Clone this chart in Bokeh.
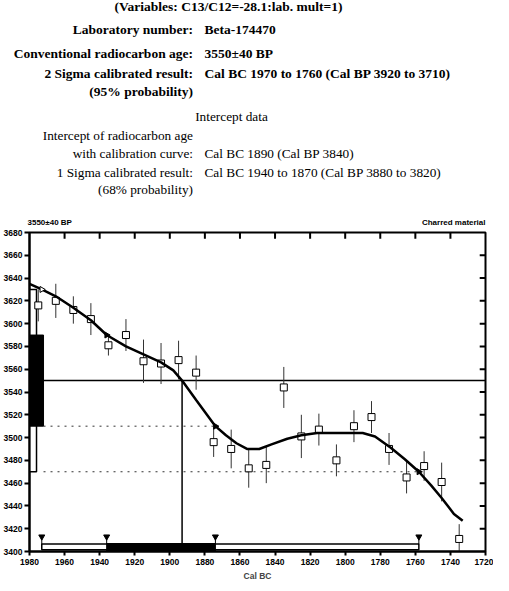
import math
from bokeh.plotting import figure
from bokeh.models import Range1d, FixedTicker
from bokeh.layouts import column
from bokeh.core.properties import value
from bokeh.embed import file_html
from bokeh.resources import INLINE

# ---------------- data ----------------
measured_age = 3550
age_sigma = 40
intercept_cal_bc = 1893
one_sigma_range = [1936, 1874]
two_sigma_range = [1973, 1758]
crossing_cal_bc = [1973, 1936, 1874, 1758]
crossing_bp = [3630, 3590, 3510, 3470]

curve_cal_bc = [1980, 1973, 1965, 1955, 1945, 1936, 1925, 1915, 1905, 1898, 1893, 1885,
                1874, 1868, 1862, 1856, 1849, 1842, 1833, 1825, 1816, 1808, 1790, 1783,
                1774, 1766, 1758, 1751, 1745, 1738, 1733]
curve_bp = [3635, 3630, 3624, 3614, 3603, 3590, 3580, 3573, 3566, 3559, 3550, 3533,
            3510, 3502, 3495, 3490, 3490, 3494, 3499, 3502, 3504, 3504, 3504, 3501,
            3491, 3481, 3470, 3458, 3447, 3433, 3427]

point_cal_bc = [1975, 1965, 1955, 1945, 1935, 1925, 1915, 1905, 1895, 1885, 1875, 1865, 1855,
                1845, 1835, 1825, 1815, 1805, 1795, 1785, 1775, 1765, 1755, 1745, 1735]
point_bp = [3616, 3620, 3612, 3604, 3581, 3590, 3567, 3565, 3568, 3557, 3496, 3490, 3473,
            3476, 3544, 3501, 3507, 3480, 3510, 3518, 3490, 3465, 3475, 3461, 3411]
point_err = [14, 15, 12, 14, 9, 14, 19, 18, 17, 15, 13, 17, 17, 16, 18, 19, 14, 14, 14,
             14, 14, 14, 13, 17, 13]

x_ticks = [1980, 1960, 1940, 1920, 1900, 1880, 1860, 1840, 1820, 1800, 1780, 1760, 1740, 1720]
y_ticks = [3400, 3420, 3440, 3460, 3480, 3500, 3520, 3540, 3560, 3580, 3600, 3620, 3640,
           3660, 3680]

header_labels = ["Laboratory number:", "Conventional radiocarbon age:",
                 "2 Sigma calibrated result:", "(95% probability)"]
header_values = ["Beta-174470", "3550±40 BP", "Cal BC 1970 to 1760 (Cal BP 3920 to 3710)"]
intercept_labels = ["Intercept of radiocarbon age", "with calibration curve:",
                    "1 Sigma calibrated result:", "(68% probability)"]
intercept_values = ["Cal BC 1890 (Cal BP 3840)", "Cal BC 1940 to 1870 (Cal BP 3880 to 3820)"]

SERIF = value("Liberation Serif")
SANS_NAME = "Liberation Sans"
SANS = value(SANS_NAME)

W = 493
HH = 226
MH = 357

# ---------------- header ----------------
h = figure(width=W, height=HH, x_range=Range1d(0, W), y_range=Range1d(HH, 0),
           output_backend="svg", toolbar_location=None, min_border=0,
           x_axis_location=None, y_axis_location=None, outline_line_color=None)
h.grid.visible = False
h.frame_align = False

h.text(x=[228], y=[6], text=["(Variables: C13/C12=-28.1:lab. mult=1)"],
       text_align="center", text_baseline="middle", text_font=SERIF,
       text_font_style="bold", text_font_size="13.5px", text_color="black")
h.text(x=[192.5] * 4, y=[29, 53, 73, 91], text=header_labels,
       text_align="right", text_baseline="middle", text_font=SERIF,
       text_font_style="bold", text_font_size="13.5px", text_color="black")
h.text(x=[204] * 3, y=[29, 53, 73], text=header_values,
       text_align="left", text_baseline="middle", text_font=SERIF,
       text_font_style="bold", text_font_size="13.5px", text_color="black")
h.text(x=[231], y=[116], text=["Intercept data"],
       text_align="center", text_baseline="middle", text_font=SERIF,
       text_font_size="13.3px", text_color="black")
h.text(x=[192.5] * 4, y=[135, 153, 172, 189], text=intercept_labels,
       text_align="right", text_baseline="middle", text_font=SERIF,
       text_font_size="13.3px", text_color="black")
h.text(x=[204] * 2, y=[153, 172], text=intercept_values,
       text_align="left", text_baseline="middle", text_font=SERIF,
       text_font_size="13.3px", text_color="black")
h.text(x=[27], y=[222], text=["3550±40 BP"], text_align="left", text_baseline="middle",
       text_font=SANS, text_font_style="bold", text_font_size="8px", text_color="black")
h.text(x=[485], y=[222], text=["Charred material"], text_align="right",
       text_baseline="middle", text_font=SANS, text_font_style="bold",
       text_font_size="8px", text_color="black")

# ---------------- main plot ----------------
p = figure(width=W, height=MH, x_range=Range1d(1980, 1720), y_range=Range1d(3400, 3680),
           output_backend="svg", toolbar_location=None,
           min_border_top=6, min_border_right=8, min_border_left=0, min_border_bottom=0)
p.frame_align = False
p.grid.visible = False
p.outline_line_color = "black"
p.outline_line_width = 2

p.xaxis.ticker = FixedTicker(ticks=x_ticks)
p.yaxis.ticker = FixedTicker(ticks=y_ticks)
p.xaxis.minor_tick_line_color = None
p.yaxis.minor_tick_line_color = None
for ax in (p.xaxis[0], p.yaxis[0]):
    ax.axis_line_width = 2
    ax.major_tick_line_width = 2
    ax.major_tick_in = 0
    ax.major_label_text_font = SANS_NAME
    ax.major_label_text_font_style = "bold"
    ax.major_label_text_font_size = "8.5px"
    ax.major_label_text_color = "black"
p.xaxis.major_tick_out = 4
p.yaxis.major_tick_out = 5
p.xaxis.major_label_standoff = 3
p.yaxis.major_label_standoff = 2
p.xaxis.axis_label = "Cal BC"
p.xaxis.axis_label_text_font = SANS_NAME
p.xaxis.axis_label_text_font_style = "bold"
p.xaxis.axis_label_text_font_size = "8.5px"
p.xaxis.axis_label_standoff = 3

# inward ticks on the top and right frame edges (at the axis tick values)
x_start, x_end = p.x_range.start, p.x_range.end
y_start, y_end = p.y_range.start, p.y_range.end
tick_len_y = 5.5   # in BP units
tick_len_x = 3.3   # in years
inner_x = x_ticks[1:-1]
inner_y = y_ticks[1:-1]
p.segment(x0=inner_x, x1=inner_x, y0=[y_end] * len(inner_x),
          y1=[y_end - tick_len_y] * len(inner_x), line_color="black", line_width=2)
p.segment(x0=[x_end] * len(inner_y), x1=[x_end + tick_len_x] * len(inner_y),
          y0=inner_y, y1=inner_y, line_color="black", line_width=2)

# radiocarbon age bars on the y-axis
bar2_w = 4
bar1_w = 8
p.quad(left=[x_start], right=[x_start - bar2_w], bottom=[measured_age - 2 * age_sigma],
       top=[measured_age + 2 * age_sigma], fill_color="white", line_color="black",
       line_width=1.5)
p.quad(left=[x_start], right=[x_start - bar1_w], bottom=[measured_age - age_sigma],
       top=[measured_age + age_sigma], fill_color="black", line_color="black")

# measured age line and sigma lines
p.segment(x0=[x_start - bar1_w], y0=[measured_age], x1=[x_end], y1=[measured_age],
          line_color="black", line_width=1.5)
p.segment(x0=[x_start - bar1_w] * 2,
          y0=[measured_age - age_sigma, measured_age - 2 * age_sigma],
          x1=[crossing_cal_bc[2], crossing_cal_bc[3]],
          y1=[measured_age - age_sigma, measured_age - 2 * age_sigma],
          line_color="#333333", line_width=1, line_dash="2 5")

# calibration data points with error bars
p.segment(x0=point_cal_bc, x1=point_cal_bc,
          y0=[b - e for b, e in zip(point_bp, point_err)],
          y1=[b + e for b, e in zip(point_bp, point_err)],
          line_color="#333333", line_width=1)
p.scatter(point_cal_bc, point_bp, marker="square", size=7, fill_color="white",
          line_color="black", line_width=1)

# calibration curve
p.line(curve_cal_bc, curve_bp, line_color="black", line_width=2.5)

# crossing markers (first one drawn open, as on the age bar)
p.scatter(crossing_cal_bc, crossing_bp, marker="triangle", angle=-math.pi / 2, size=6,
          fill_color=["white", "black", "black", "black"], line_color="black")

# calibrated ranges along the x-axis
p.quad(left=[two_sigma_range[0]], right=[two_sigma_range[1]], bottom=[y_start + 1.5],
       top=[y_start + 6.5], fill_color="white", line_color="black", line_width=1.5)
p.quad(left=[one_sigma_range[0]], right=[one_sigma_range[1]], bottom=[y_start],
       top=[y_start + 7], fill_color="black", line_color="black")
range_ends = two_sigma_range[:1] + one_sigma_range + two_sigma_range[1:]
p.segment(x0=range_ends, x1=range_ends, y0=[y_start + 6.5] * 4, y1=[y_start + 12] * 4,
          line_color="black", line_width=1)
p.scatter(range_ends, [y_start + 13] * 4, marker="inverted_triangle", size=6,
          fill_color="black", line_color="black")

# intercept line
p.segment(x0=[intercept_cal_bc], x1=[intercept_cal_bc], y0=[y_start + 6.5],
          y1=[measured_age], line_color="black", line_width=1.5)

layout = column(h, p, spacing=0)
open("out.html", "w").write(file_html(layout, INLINE))
